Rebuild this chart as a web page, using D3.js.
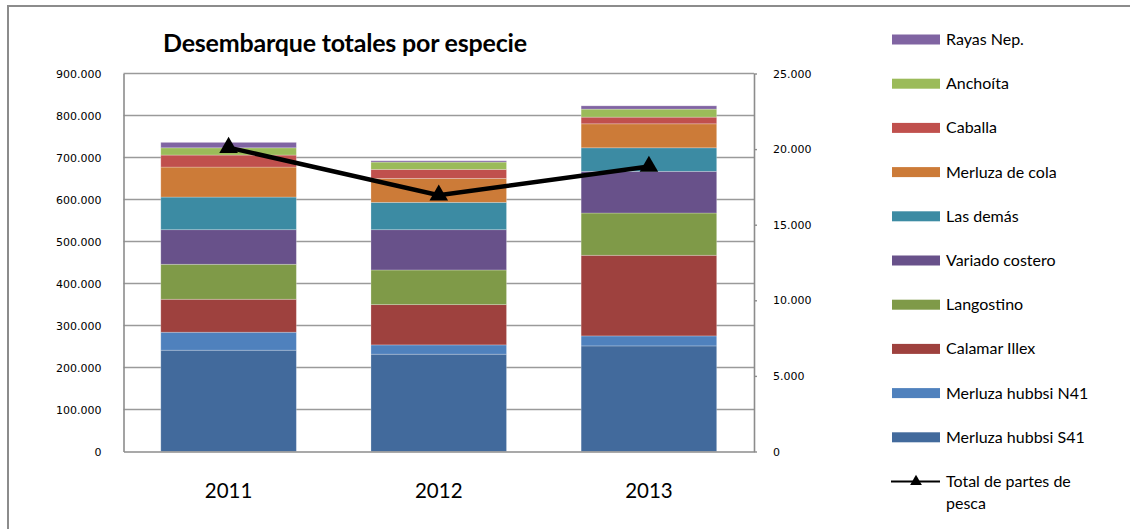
<!DOCTYPE html>
<html>
<head>
<meta charset="utf-8">
<script src="https://cdn.jsdelivr.net/npm/d3@7"></script>
<style>
  html, body { margin: 0; padding: 0; background: #fff; }
  svg { display: block; }
</style>
</head>
<body>
<svg id="chart" width="1130" height="529"></svg>
<script>
// Years on the category axis
const years = ["2011", "2012", "2013"];

// Landings per species (tonnes), stacked bottom to top
const species = [
  "Merluza hubbsi S41", "Merluza hubbsi N41", "Calamar Illex", "Langostino",
  "Variado costero", "Las demás", "Merluza de cola", "Caballa", "Anchoíta", "Rayas Nep."
];
const merluzaS41   = [241200, 231700, 251400];
const merluzaN41   = [42800, 22100, 23800];
const calamarIllex = [78500, 95900, 192000];
const langostino   = [83300, 82500, 100600];
const variado      = [82300, 95900, 99200];
const lasDemas     = [77700, 65100, 56100];
const merluzaCola  = [71400, 57100, 57100];
const caballa      = [28600, 21400, 15900];
const anchoita     = [17300, 17400, 19100];
const rayas        = [12900, 3100, 7800];
const seriesValues = [merluzaS41, merluzaN41, calamarIllex, langostino, variado,
                      lasDemas, merluzaCola, caballa, anchoita, rayas];

// Fishing trip reports (right axis)
const partesPesca = [20100, 16950, 18850];

// Axis ticks
const leftTicks  = [0, 100000, 200000, 300000, 400000, 500000, 600000, 700000, 800000, 900000];
const rightTicks = [0, 5000, 10000, 15000, 20000, 25000];

const colors = ["#426A9C", "#4F81BD", "#9E413E", "#7F9A48", "#68518A",
                "#3C8BA3", "#CC7B38", "#C0504D", "#9BBB59", "#8064A2"];

const svg = d3.select("#chart");
const fmt = d => d === 0 ? "0" : d3.format(",")(d).replace(/,/g, ".");

const plot = { left: 123.5, right: 754, top: 73.5, bottom: 451.5 };

// Outer frame
svg.append("rect")
  .attr("x", 8).attr("y", 6).attr("width", 1140).attr("height", 540)
  .attr("fill", "none").attr("stroke", "#8c8c8c").attr("stroke-width", 2);

const x = d3.scaleBand().domain(years).range([plot.left, plot.right])
  .paddingInner(0.355).paddingOuter(0.1775);
const yL = d3.scaleLinear().domain([0, 900000]).range([plot.bottom, plot.top]);
const yR = d3.scaleLinear().domain([0, 25000]).range([plot.bottom, plot.top]);

// Gridlines
svg.append("g")
  .selectAll("line").data(leftTicks.slice(1)).join("line")
  .attr("x1", plot.left).attr("x2", plot.right)
  .attr("y1", d => yL(d)).attr("y2", d => yL(d))
  .attr("stroke", "#9a9a9a").attr("stroke-width", 1.6);

// Stacked bars
const table = years.map((yr, i) => {
  const row = { year: yr };
  species.forEach((s, k) => { row[s] = seriesValues[k][i]; });
  return row;
});
const stack = d3.stack().keys(species)(table);

svg.append("g").selectAll("g").data(stack).join("g")
  .attr("fill", (d, i) => colors[i])
  .selectAll("rect").data(d => d).join("rect")
  .attr("x", d => x(d.data.year))
  .attr("width", x.bandwidth())
  .attr("y", d => yL(d[1]))
  .attr("height", d => yL(d[0]) - yL(d[1]))
  .attr("stroke", "rgba(255,255,255,0.3)").attr("stroke-width", 0.8);

// Left axis
const axL = svg.append("g").attr("transform", `translate(${plot.left},0)`)
  .call(d3.axisLeft(yL).tickValues(leftTicks).tickFormat(fmt).tickSize(0).tickPadding(22));
axL.select(".domain").attr("stroke", "#8c8c8c").attr("stroke-width", 1.6);
axL.selectAll("text").attr("font-family", "DejaVu Sans").attr("font-size", 11).attr("fill", "#000");

// Right axis
const axR = svg.append("g").attr("transform", `translate(${plot.right},0)`)
  .call(d3.axisRight(yR).tickValues(rightTicks).tickFormat(fmt).tickSizeInner(3).tickSizeOuter(0).tickPadding(16));
axR.select(".domain").attr("stroke", "#8c8c8c").attr("stroke-width", 1.6);
axR.selectAll(".tick line").attr("stroke", "#8c8c8c").attr("stroke-width", 1.4);
axR.selectAll("text").attr("font-family", "DejaVu Sans").attr("font-size", 11).attr("fill", "#000");

// Bottom axis
const axB = svg.append("g").attr("transform", `translate(0,${plot.bottom})`)
  .call(d3.axisBottom(x).tickSize(0).tickPadding(32));
axB.select(".domain").attr("stroke", "#8c8c8c").attr("stroke-width", 1.6);
axB.selectAll("text").attr("font-family", "Lato").attr("font-size", 20.5).attr("fill", "#000");

// Line on the right axis
const cx = d => x(d) + x.bandwidth() / 2;
svg.append("path")
  .datum(partesPesca)
  .attr("d", d3.line().x((d, i) => cx(years[i])).y(d => yR(d)))
  .attr("fill", "none").attr("stroke", "#000").attr("stroke-width", 4.5);

const tri = d3.symbol().type(d3.symbolTriangle).size(150);
svg.append("g").selectAll("path").data(partesPesca).join("path")
  .attr("d", tri)
  .attr("transform", (d, i) => `translate(${cx(years[i])},${yR(d)})`)
  .attr("fill", "#000");

// Title
svg.append("text")
  .attr("x", 163).attr("y", 52)
  .attr("font-family", "Lato").attr("font-weight", "bold").attr("font-size", 25)
  .attr("letter-spacing", -0.2)
  .attr("fill", "#000")
  .text("Desembarque totales por especie");

// Legend
const legendOrder = species.map((s, i) => ({ name: s, color: colors[i] })).reverse();
const lg = svg.append("g").attr("font-family", "Lato").attr("font-size", 16).attr("fill", "#000");
legendOrder.forEach((d, i) => {
  const cy = 39.5 + i * 44.2;
  lg.append("rect").attr("x", 892).attr("y", cy - 5).attr("width", 48).attr("height", 10).attr("fill", d.color);
  lg.append("text").attr("x", 946).attr("y", cy + 5.5).text(d.name);
});
const ly = 39.5 + 10 * 44.2;
lg.append("line").attr("x1", 891).attr("x2", 940).attr("y1", ly).attr("y2", ly)
  .attr("stroke", "#000").attr("stroke-width", 2);
lg.append("path").attr("d", d3.symbol().type(d3.symbolTriangle).size(60))
  .attr("transform", `translate(916,${ly})`).attr("fill", "#000");
lg.append("text").attr("x", 946).attr("y", ly + 5.5).text("Total de partes de");
lg.append("text").attr("x", 946).attr("y", ly + 27.5).text("pesca");
</script>
</body>
</html>
